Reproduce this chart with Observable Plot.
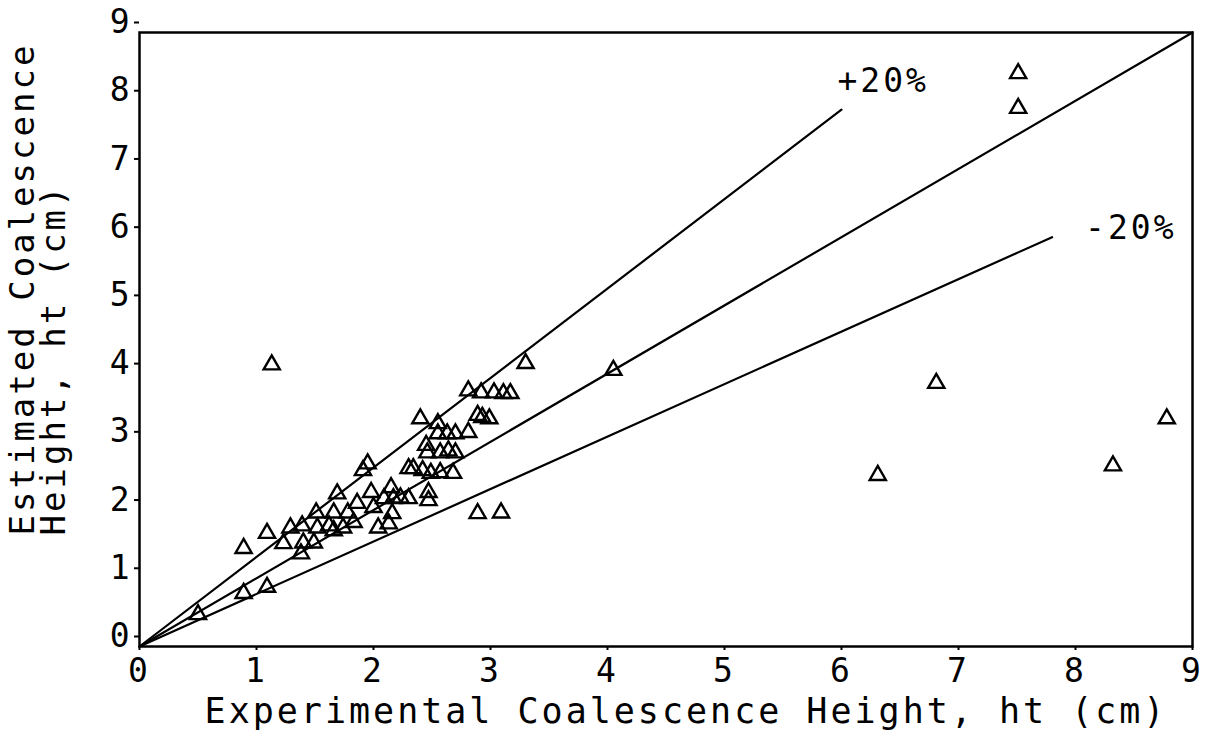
<!DOCTYPE html>
<html>
<head>
<meta charset="utf-8">
<script src="https://cdn.jsdelivr.net/npm/d3@7"></script>
<script src="https://cdn.jsdelivr.net/npm/@observablehq/plot@0.6"></script>
<style>
  body { margin: 0; background: #fff; }
  #chart svg { font-family: "DejaVu Sans Mono", monospace; }
</style>
</head>
<body>
<div id="chart"></div>
<script>
// Experimental vs. estimated coalescence height, ht (cm)
const experimental = [
  0.50, 0.89, 1.09, 1.13, 3.30, 4.05, 7.51, 7.51, 6.81, 8.78,
  8.32, 6.31, 2.89, 3.09, 0.89, 1.09, 1.23, 1.29, 1.39, 1.40,
  1.38, 1.51, 1.52, 1.49, 1.66, 1.62, 1.69, 1.74, 1.86, 1.83,
  1.98, 2.00, 2.04, 2.13, 1.78, 2.09, 2.17, 2.23, 2.30, 2.15,
  2.16, 1.91, 1.95, 2.30, 2.34, 2.42, 2.49, 2.57, 2.68, 2.47,
  2.47, 2.45, 2.46, 2.57, 2.64, 2.70, 2.40, 2.55, 2.55, 2.63,
  2.70, 2.81, 2.89, 2.93, 2.99, 2.81, 2.92, 3.03, 3.11, 3.17,
  1.66
];
const estimated = [
  0.47, 0.78, 0.87, 4.13, 4.15, 4.05, 8.40, 7.89, 3.86, 3.34,
  2.65, 2.51, 1.95, 1.96, 1.44, 1.66, 1.51, 1.74, 1.77, 1.52,
  1.36, 1.96, 1.74, 1.52, 1.96, 1.77, 2.24, 1.74, 2.10, 1.82,
  2.26, 2.04, 1.74, 1.80, 1.96, 2.17, 2.17, 2.18, 2.17, 2.33,
  1.95, 2.58, 2.68, 2.61, 2.61, 2.58, 2.54, 2.55, 2.54, 2.26,
  2.14, 2.95, 2.84, 2.84, 2.87, 2.84, 3.34, 3.27, 3.12, 3.12,
  3.12, 3.14, 3.39, 3.36, 3.34, 3.75, 3.72, 3.72, 3.71, 3.71,
  1.70
];

// Reference lines from the origin: perfect agreement and the ±20% bounds
const refNames = ["+20%", "0%", "-20%"];
const refEndX  = [6.0, 9.0, 7.8];
const refEndY  = [7.87, 9.0, 6.0];

const xTicks = [0, 1, 2, 3, 4, 5, 6, 7, 8, 9];
const yTicks = [0, 1, 2, 3, 4, 5, 6, 7, 8, 9];

const xTitle = "Experimental Coalescence Height, ht (cm)";
const yTitle = ["Estimated Coalescence", "Height, ht (cm)"];

const points = experimental.map((x, i) => ({x, y: estimated[i]}));
const refLines = refNames.flatMap((name, i) => [
  {name, x: 0, y: 0},
  {name, x: refEndX[i], y: refEndY[i]}
]);
const refEnds = refNames.map((name, i) => ({name, x: refEndX[i], y: refEndY[i]}));

const chart = Plot.plot({
  width: 1211,
  height: 755,
  marginLeft: 139,
  marginRight: 19,
  marginTop: 32,
  marginBottom: 109,
  style: {fontFamily: "DejaVu Sans Mono", color: "#000", background: "#fff", overflow: "visible"},
  x: {domain: [0, 9]},
  y: {domain: [0, 9]},
  marks: [
    Plot.frame({stroke: "#000", strokeWidth: 2.5}),
    Plot.axisX({
      ticks: xTicks, tickSize: 4, tickPadding: 8, tickFormat: d => String(d),
      fontSize: 33, label: null, strokeWidth: 2
    }),
    Plot.axisY({
      ticks: yTicks, tickSize: 5, tickPadding: 2, tickFormat: d => String(d),
      fontSize: 33, label: null, dy: -10, strokeWidth: 2
    }),
    Plot.line(refLines, {x: "x", y: "y", z: "name", stroke: "#000", strokeWidth: 2.2}),
    Plot.text(refEnds.filter(d => d.name === "+20%"), {
      x: "x", y: "y", text: "name", textAnchor: "start", dx: -4, dy: -28,
      fontSize: 33, fill: "#000"
    }),
    Plot.text(refEnds.filter(d => d.name === "-20%"), {
      x: "x", y: "y", text: "name", textAnchor: "start", dx: 33, dy: -9,
      fontSize: 33, fill: "#000"
    }),
    Plot.dot(points, {
      x: "x", y: "y", symbol: "triangle", r: 6,
      stroke: "#000", strokeWidth: 2.4, fill: "none"
    }),
    Plot.text([xTitle], {
      frameAnchor: "bottom", dx: 20, dy: 76, text: d => d,
      fontSize: 35, fill: "#000"
    }),
    Plot.text([yTitle[0]], {
      frameAnchor: "bottom-left", dx: -106, dy: -111, rotate: -90,
      textAnchor: "start", text: d => d, fontSize: 34, fill: "#000"
    }),
    Plot.text([yTitle[1]], {
      frameAnchor: "bottom-left", dx: -75, dy: -111, rotate: -90,
      textAnchor: "start", text: d => d, fontSize: 34, fill: "#000"
    })
  ]
});

chart.querySelectorAll("text").forEach(t => t.setAttribute("letter-spacing", "3"));
document.getElementById("chart").appendChild(chart);
</script>
</body>
</html>
